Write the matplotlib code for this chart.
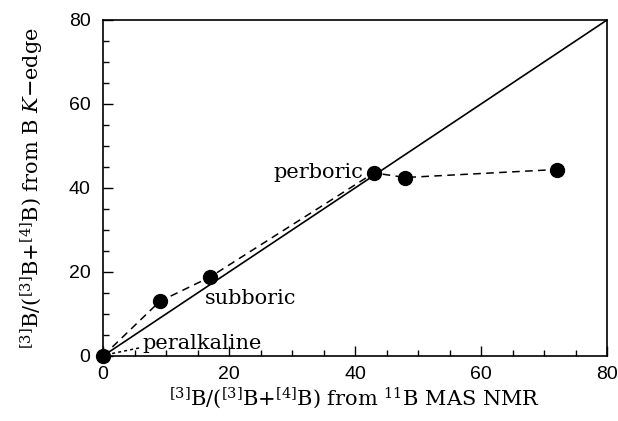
import matplotlib.pyplot as plt

# data
nmr = [0, 9, 17, 43, 48, 72]
kedge = [0, 13, 18.8, 43.6, 42.5, 44.4]
diag = [0, 80]

plt.rcParams['mathtext.fontset'] = 'dejavuserif'

fig = plt.figure(figsize=(6.18, 4.21), dpi=100)
ax = fig.add_axes([103 / 618, 1 - 356 / 421, 504 / 618, 336 / 421])

# 1:1 line
ax.plot(diag, diag, color='black', lw=1.2)
# data with dashed connection
ax.plot(nmr, kedge, color='black', lw=1.1, dashes=(5, 3.5))
ax.plot(nmr, kedge, 'o', color='black', ms=10, ls='none', clip_on=False)
# dotted pointer for peralkaline
ax.plot([0.5, 6], [0.3, 2.0], color='black', lw=1.1, ls=(0, (2, 2)))

serif = 'DejaVu Serif'
ax.text(41.3, 43.8, 'perboric', family=serif, fontsize=15, ha='right', va='center')
ax.text(16.2, 13.8, 'subboric', family=serif, fontsize=15, ha='left', va='center')
ax.text(6.3, 2.9, 'peralkaline', family=serif, fontsize=15, ha='left', va='center')

ax.set_xlim(0, 80)
ax.set_ylim(0, 80)
ax.set_xticks([0, 20, 40, 60, 80])
ax.set_yticks([0, 20, 40, 60, 80])
ax.set_xticks(range(0, 81, 5), minor=True)
ax.set_yticks(range(0, 81, 5), minor=True)
ax.tick_params(which='both', direction='in', top=False, right=False,
               labelsize=14, width=1)
ax.tick_params(which='major', length=7)
ax.tick_params(which='minor', length=4)
ax.tick_params(axis='y', pad=9)
ax.tick_params(axis='x', pad=7)
for lbl in ax.get_xticklabels() + ax.get_yticklabels():
    lbl.set_family('Liberation Sans')
for s in ax.spines.values():
    s.set_linewidth(1.2)

ax.set_xlabel(r'$^{[3]}$B/($^{[3]}$B+$^{[4]}$B) from $^{11}$B MAS NMR',
              family=serif, fontsize=15, labelpad=2)
ax.set_ylabel(r'$^{[3]}$B/($^{[3]}$B+$^{[4]}$B) from B $K$$-$edge',
              family=serif, fontsize=15, labelpad=16)

fig.savefig('out.png', dpi=100)
